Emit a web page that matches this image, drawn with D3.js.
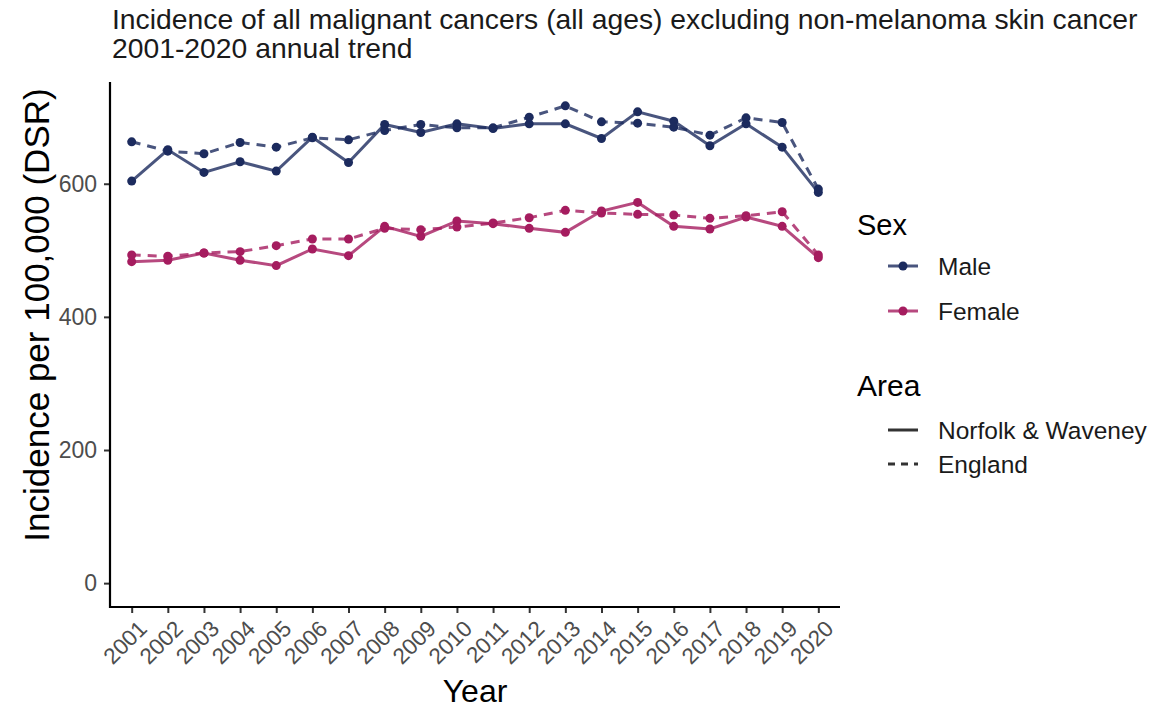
<!DOCTYPE html>
<html>
<head>
<meta charset="utf-8">
<script src="https://cdn.jsdelivr.net/npm/d3@7"></script>
<style>
  html, body { margin: 0; padding: 0; background: #fff; }
  svg { display: block; font-family: "Liberation Sans", Arial, sans-serif; }
</style>
</head>
<body>
<svg id="chart" width="1168" height="708"></svg>
<script>
// Annual incidence rates (DSR per 100,000), 2001-2020
const years = ["2001","2002","2003","2004","2005","2006","2007","2008","2009","2010",
               "2011","2012","2013","2014","2015","2016","2017","2018","2019","2020"];
const maleNW   = [604, 651, 617, 633, 619, 670, 632, 689, 677, 690, 683, 690, 690, 668, 708, 694, 657, 690, 655, 587];
const maleEng  = [663, 649, 645, 662, 655, 669, 666, 680, 689, 684, 684, 700, 717, 693, 691, 685, 673, 699, 692, 592];
const femNW    = [483, 485, 496, 485, 477, 502, 492, 536, 521, 544, 540, 533, 527, 559, 572, 536, 532, 550, 536, 489];
const femEng   = [493, 491, 496, 498, 507, 517, 517, 533, 531, 535, 541, 549, 560, 556, 554, 553, 548, 552, 558, 493];
const yTicks = [0, 200, 400, 600];

const sexLevels  = ["Male", "Female"];
const sexColours = ["#1c2b5e", "#a51c5f"];
const areaLevels = ["Norfolk & Waveney", "England"];

const series = [
  { sex: "Male",   area: "Norfolk & Waveney", values: maleNW },
  { sex: "Male",   area: "England",           values: maleEng },
  { sex: "Female", area: "Norfolk & Waveney", values: femNW },
  { sex: "Female", area: "England",           values: femEng }
];

(function draw() {
  const svg = d3.select("#chart");
  const pLeft = 110, pRight = 840, pTop = 82, pBottom = 607;
  const font = "'Liberation Sans', Arial, sans-serif";

  const colour = d3.scaleOrdinal().domain(sexLevels).range(sexColours);
  const dash = d3.scaleOrdinal().domain(areaLevels).range(["none", "9,7"]);

  // Discrete x axis with 0.6 unit padding on both ends
  const x = d3.scalePoint().domain(years).range([pLeft, pRight]).padding(0.6);
  const yMax = d3.max(series.flatMap(s => s.values));
  const pad = yMax * 0.05;
  const y = d3.scaleLinear().domain([-pad, yMax + pad]).range([pBottom, pTop]);

  // Axes
  const yAxis = d3.axisLeft(y).tickValues(yTicks).tickSize(6).tickPadding(7);
  const gy = svg.append("g").attr("transform", `translate(${pLeft},0)`).call(yAxis);
  gy.attr("font-size", null).attr("font-family", null);
  gy.select(".domain").remove();
  gy.selectAll(".tick line").attr("stroke", "#333").attr("stroke-width", 2);
  gy.selectAll(".tick text").attr("fill", "#4d4d4d")
    .style("font-size", "23px").style("font-family", font);

  const xAxis = d3.axisBottom(x).tickSize(6).tickPadding(4);
  const gx = svg.append("g").attr("transform", `translate(0,${pBottom})`).call(xAxis);
  gx.attr("font-size", null).attr("font-family", null);
  gx.select(".domain").remove();
  gx.selectAll(".tick line").attr("stroke", "#333").attr("stroke-width", 2);
  gx.selectAll(".tick text")
    .attr("fill", "#4d4d4d")
    .style("font-size", "22.5px")
    .style("font-family", font)
    .attr("text-anchor", "end")
    .attr("dy", null)
    .attr("transform", "translate(9,16) rotate(-45)");

  // Axis lines
  svg.append("line").attr("x1", pLeft).attr("x2", pLeft).attr("y1", pTop).attr("y2", pBottom + 1)
    .attr("stroke", "#000").attr("stroke-width", 2.2);
  svg.append("line").attr("x1", pLeft - 1).attr("x2", pRight).attr("y1", pBottom).attr("y2", pBottom)
    .attr("stroke", "#000").attr("stroke-width", 2.2);

  // Lines and points
  const line = d3.line().x((d, i) => x(years[i])).y(d => y(d));
  const plot = svg.append("g");
  series.forEach(s => {
    plot.append("path")
      .attr("d", line(s.values))
      .attr("fill", "none")
      .attr("stroke", colour(s.sex))
      .attr("stroke-opacity", 0.8)
      .attr("stroke-width", 3)
      .attr("stroke-dasharray", dash(s.area));
  });
  series.forEach(s => {
    plot.selectAll(null).data(s.values).enter().append("circle")
      .attr("cx", (d, i) => x(years[i]))
      .attr("cy", d => y(d))
      .attr("r", 4.5)
      .attr("fill", colour(s.sex));
  });

  // Titles
  svg.append("text").attr("x", 112).attr("y", 29)
    .style("font-size", "28.3px").attr("fill", "#1a1a1a")
    .text("Incidence of all malignant cancers (all ages) excluding non-melanoma skin cancer");
  svg.append("text").attr("x", 112).attr("y", 58)
    .style("font-size", "28.3px").attr("fill", "#1a1a1a")
    .text("2001-2020 annual trend");

  svg.append("text")
    .attr("transform", "translate(49,315) rotate(-90)")
    .attr("text-anchor", "middle")
    .style("font-size", "35px").attr("fill", "#000")
    .text("Incidence per 100,000 (DSR)");

  svg.append("text")
    .attr("x", (pLeft + pRight) / 2).attr("y", 702)
    .attr("text-anchor", "middle")
    .style("font-size", "32px").attr("fill", "#000")
    .text("Year");

  // Legends
  const lg = svg.append("g");
  lg.append("text").attr("x", 857).attr("y", 235).style("font-size", "29px").text("Sex");
  sexLevels.forEach((s, i) => {
    const cy = 266 + i * 45;
    lg.append("line").attr("x1", 888).attr("x2", 918).attr("y1", cy).attr("y2", cy)
      .attr("stroke", colour(s)).attr("stroke-opacity", 0.8).attr("stroke-width", 3);
    lg.append("circle").attr("cx", 903).attr("cy", cy).attr("r", 4.5).attr("fill", colour(s));
    lg.append("text").attr("x", 938).attr("y", cy + 9).style("font-size", "24.5px")
      .attr("fill", "#1a1a1a").text(s);
  });
  lg.append("text").attr("x", 857).attr("y", 396).style("font-size", "30px").text("Area");
  areaLevels.forEach((a, i) => {
    const cy = 430 + i * 34;
    lg.append("line").attr("x1", 888).attr("x2", 918).attr("y1", cy).attr("y2", cy)
      .attr("stroke", "#333").attr("stroke-width", 3).attr("stroke-dasharray", a === "England" ? "7,6" : "none");
    lg.append("text").attr("x", 938).attr("y", cy + 9).style("font-size", "24.5px")
      .attr("fill", "#1a1a1a").text(a);
  });
})();
</script>
</body>
</html>
